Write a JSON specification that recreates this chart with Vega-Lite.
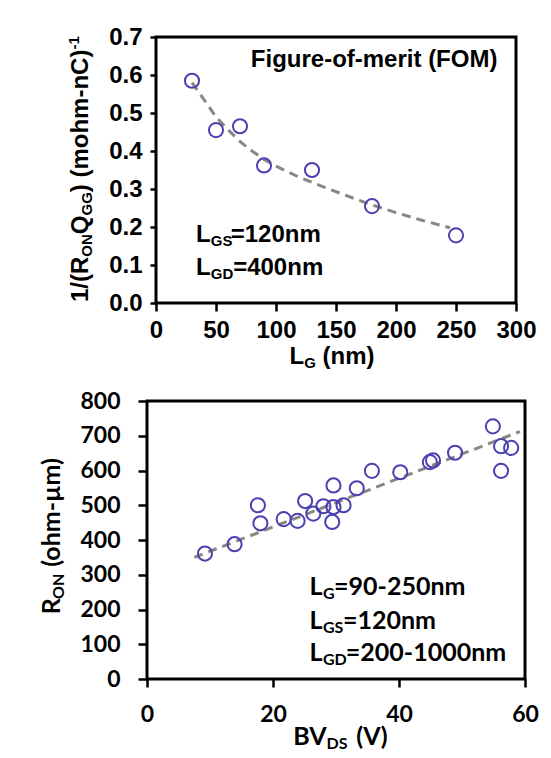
{
  "$schema": "https://vega.github.io/schema/vega-lite/v6.json",
  "padding": {"left": 38, "top": 23, "right": 0, "bottom": 0},
  "background": "white",
  "spacing": 98,
  "center": true,
  "bounds": "flush",
  "config": {
    "view": {"stroke": "black", "strokeWidth": 3},
    "axis": {"grid": false, "domain": false, "tickColor": "black", "tickWidth": 2.5, "labelColor": "black", "labelFontWeight": "bold", "labelOverlap": false, "labelFlush": false}
  },
  "datasets": {
    "ptsTop": [
      {"x": 30, "y": 0.585}, {"x": 50, "y": 0.455}, {"x": 70, "y": 0.465}, {"x": 90, "y": 0.362},
      {"x": 130, "y": 0.35}, {"x": 180, "y": 0.255}, {"x": 250, "y": 0.178}
    ],
    "fitTop": [
      {"x": 30, "y": 0.58}, {"x": 40, "y": 0.535}, {"x": 50, "y": 0.49}, {"x": 60, "y": 0.456},
      {"x": 70, "y": 0.425}, {"x": 80, "y": 0.4}, {"x": 90, "y": 0.378}, {"x": 100, "y": 0.36},
      {"x": 120, "y": 0.33}, {"x": 140, "y": 0.305}, {"x": 160, "y": 0.281}, {"x": 180, "y": 0.258},
      {"x": 200, "y": 0.238}, {"x": 220, "y": 0.219}, {"x": 245, "y": 0.198}
    ],
    "txtTopMain": [
      {"x": 79, "y": 0.62, "t": "Figure-of-merit (FOM)"},
      {"x": 33.3, "y": 0.1605, "t": "L"}, {"x": 62.25, "y": 0.1605, "t": "=120nm"},
      {"x": 33.3, "y": 0.0737, "t": "L"}, {"x": 64.3, "y": 0.0737, "t": "=400nm"},
      {"x": 111.25, "y": -0.16, "t": "L"}, {"x": 138.85, "y": -0.16, "t": "(nm)"}
    ],
    "txtTopSub": [
      {"x": 45.6, "y": 0.1605, "t": "GS"}, {"x": 45.6, "y": 0.0737, "t": "GD"}, {"x": 123.5, "y": -0.16, "t": "G"}
    ],
    "rotTopMain": [
      {"x": -56.7, "y": 0.0026, "t": "1/(R"}, {"x": -56.7, "y": 0.1811, "t": "Q"}, {"x": -56.7, "y": 0.2916, "t": ") (mohm-nC)"}
    ],
    "rotTopSub": [
      {"x": -56.7, "y": 0.1218, "t": "ON"}, {"x": -56.7, "y": 0.2303, "t": "GG"}
    ],
    "rotTopSup": [
      {"x": -56.7, "y": 0.6668, "t": "-1"}
    ],
    "ptsBot": [
      {"x": 9.2, "y": 361}, {"x": 13.9, "y": 388}, {"x": 17.6, "y": 500}, {"x": 18.0, "y": 448},
      {"x": 21.7, "y": 460}, {"x": 23.9, "y": 455}, {"x": 25.1, "y": 512}, {"x": 26.4, "y": 476},
      {"x": 28.0, "y": 497}, {"x": 29.6, "y": 557}, {"x": 29.6, "y": 495}, {"x": 29.4, "y": 452},
      {"x": 31.2, "y": 500}, {"x": 33.3, "y": 549}, {"x": 35.7, "y": 599}, {"x": 40.2, "y": 595},
      {"x": 44.9, "y": 624}, {"x": 45.4, "y": 629}, {"x": 48.9, "y": 651}, {"x": 54.9, "y": 727},
      {"x": 56.2, "y": 670}, {"x": 57.8, "y": 665}, {"x": 56.2, "y": 599}
    ],
    "fitBot": [
      {"x": 7.5, "y": 350}, {"x": 59.2, "y": 712}
    ],
    "txtBotMain": [
      {"x": 25.8, "y": 241.7, "t": "L"}, {"x": 29.7, "y": 241.7, "t": "=90-250nm"},
      {"x": 25.8, "y": 145, "t": "L"}, {"x": 31.1, "y": 145, "t": "=120nm"},
      {"x": 25.8, "y": 51.8, "t": "L"}, {"x": 31.56, "y": 51.8, "t": "=200-1000nm"},
      {"x": 23.2, "y": -191, "t": "BV"}, {"x": 33.2, "y": -191, "t": "(V)"}
    ],
    "txtBotSub": [
      {"x": 27.92, "y": 241.7, "t": "G"}, {"x": 27.92, "y": 145, "t": "GS"}, {"x": 27.92, "y": 51.8, "t": "GD"},
      {"x": 28.5, "y": -191, "t": "DS"}
    ],
    "rotBotMain": [
      {"x": -13.8, "y": 186, "t": "R"}, {"x": -13.8, "y": 323, "t": "(ohm-µm)"}
    ],
    "rotBotSub": [
      {"x": -13.8, "y": 230.5, "t": "ON"}
    ]
  },
  "vconcat": [
    {
      "width": 360,
      "height": 266,
      "encoding": {
        "x": {"field": "x", "type": "quantitative", "scale": {"domain": [0, 300], "nice": false},
              "axis": {"title": null, "values": [0, 50, 100, 150, 200, 250, 300], "tickSize": 8, "labelPadding": 7, "labelFont": "Liberation Sans", "labelFontSize": 24}},
        "y": {"field": "y", "type": "quantitative", "scale": {"domain": [0, 0.7], "nice": false},
              "axis": {"title": null, "values": [0, 0.1, 0.2, 0.3, 0.4, 0.5, 0.6, 0.7], "format": ".1f", "tickSize": 6, "labelPadding": 8, "labelFont": "Liberation Sans", "labelFontSize": 24}}
      },
      "layer": [
        {"data": {"name": "fitTop"}, "mark": {"type": "line", "color": "#8c8680", "strokeWidth": 3, "strokeDash": [9, 6]}},
        {"data": {"name": "ptsTop"}, "mark": {"type": "point", "shape": "circle", "filled": false, "size": 200, "stroke": "#4a40b0", "strokeWidth": 2, "opacity": 1}},
        {"data": {"name": "txtTopMain"}, "mark": {"type": "text", "align": "left", "baseline": "alphabetic", "font": "Liberation Sans", "fontWeight": "bold", "fontSize": 24, "color": "black"},
         "encoding": {"text": {"field": "t"}}},
        {"data": {"name": "txtTopSub"}, "mark": {"type": "text", "align": "left", "baseline": "alphabetic", "font": "Liberation Sans", "fontWeight": "bold", "fontSize": 15, "dy": 4, "color": "black"},
         "encoding": {"text": {"field": "t"}}},
        {"data": {"name": "rotTopMain"}, "mark": {"type": "text", "align": "left", "baseline": "alphabetic", "angle": 270, "font": "Liberation Sans", "fontWeight": "bold", "fontSize": 24, "color": "black"},
         "encoding": {"text": {"field": "t"}}},
        {"data": {"name": "rotTopSub"}, "mark": {"type": "text", "align": "left", "baseline": "alphabetic", "angle": 270, "font": "Liberation Sans", "fontWeight": "bold", "fontSize": 15, "dy": 4, "color": "black"},
         "encoding": {"text": {"field": "t"}}},
        {"data": {"name": "rotTopSup"}, "mark": {"type": "text", "align": "left", "baseline": "alphabetic", "angle": 270, "font": "Liberation Sans", "fontWeight": "bold", "fontSize": 15, "dy": -9, "color": "black"},
         "encoding": {"text": {"field": "t"}}}
      ]
    },
    {
      "width": 378,
      "height": 278,
      "encoding": {
        "x": {"field": "x", "type": "quantitative", "scale": {"domain": [0, 60], "nice": false},
              "axis": {"title": null, "values": [0, 20, 40, 60], "tickSize": 8, "labelPadding": 16, "labelFont": "Lato", "labelFontSize": 23}},
        "y": {"field": "y", "type": "quantitative", "scale": {"domain": [0, 800], "nice": false},
              "axis": {"title": null, "values": [0, 100, 200, 300, 400, 500, 600, 700, 800], "tickSize": 9, "labelPadding": 18, "labelFont": "Lato", "labelFontSize": 23}}
      },
      "layer": [
        {"data": {"name": "fitBot"}, "mark": {"type": "line", "color": "#8c8680", "strokeWidth": 3, "strokeDash": [9, 6]}},
        {"data": {"name": "ptsBot"}, "mark": {"type": "point", "shape": "circle", "filled": false, "size": 200, "stroke": "#4a40b0", "strokeWidth": 2, "opacity": 1}},
        {"data": {"name": "txtBotMain"}, "mark": {"type": "text", "align": "left", "baseline": "alphabetic", "font": "Lato", "fontWeight": "bold", "fontSize": 25, "color": "black"},
         "encoding": {"text": {"field": "t"}}},
        {"data": {"name": "txtBotSub"}, "mark": {"type": "text", "align": "left", "baseline": "alphabetic", "font": "Lato", "fontWeight": "bold", "fontSize": 16, "dy": 4, "color": "black"},
         "encoding": {"text": {"field": "t"}}},
        {"data": {"name": "rotBotMain"}, "mark": {"type": "text", "align": "left", "baseline": "alphabetic", "angle": 270, "font": "Lato", "fontWeight": "bold", "fontSize": 25, "color": "black"},
         "encoding": {"text": {"field": "t"}}},
        {"data": {"name": "rotBotSub"}, "mark": {"type": "text", "align": "left", "baseline": "alphabetic", "angle": 270, "font": "Lato", "fontWeight": "bold", "fontSize": 16, "dy": 4, "color": "black"},
         "encoding": {"text": {"field": "t"}}}
      ]
    }
  ]
}
